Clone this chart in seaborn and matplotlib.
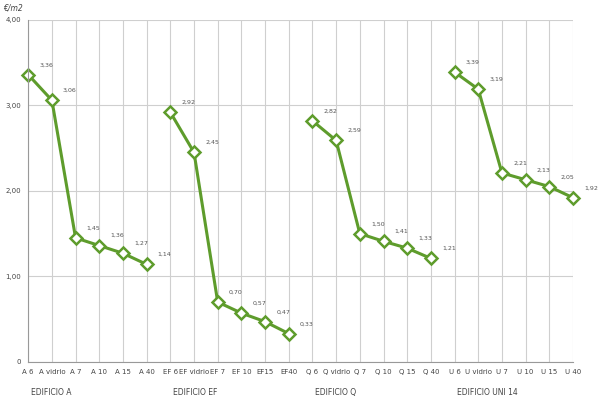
import matplotlib
matplotlib.use("Agg")
import matplotlib.pyplot as plt
import pandas as pd
import seaborn as sns

# valores (euro/m2)
edificios = ["EDIFICIO A", "EDIFICIO EF", "EDIFICIO Q", "EDIFICIO UNI 14"]
etiquetas = ["A 6", "A vidrio", "A 7", "A 10", "A 15", "A 40",
             "EF 6", "EF vidrio", "EF 7", "EF 10", "EF15", "EF40",
             "Q 6", "Q vidrio", "Q 7", "Q 10", "Q 15", "Q 40",
             "U 6", "U vidrio", "U 7", "U 10", "U 15", "U 40"]
valores_a = [3.36, 3.06, 1.45, 1.36, 1.27, 1.14]
valores_ef = [2.92, 2.45, 0.70, 0.57, 0.47, 0.33]
valores_q = [2.82, 2.59, 1.50, 1.41, 1.33, 1.21]
valores_u = [3.39, 3.19, 2.21, 2.13, 2.05, 1.92]
yticks = [0, 1, 2, 3, 4]
ytick_labels = ["0", "1,00", "2,00", "3,00", "4,00"]

todos = valores_a + valores_ef + valores_q + valores_u
df = pd.DataFrame({
    "pos": range(len(etiquetas)),
    "caso": etiquetas,
    "valor": todos,
    "edificio": [e for e in edificios for _ in range(6)],
})

verde = "#5e9c2c"
sns.set_style("white")
fig = plt.figure(figsize=(6, 4.07), dpi=100)
ax = fig.add_axes([0.047, 0.111, 0.908, 0.840])

sns.lineplot(data=df, x="pos", y="valor", hue="edificio",
             palette=[verde] * 4, legend=False, linewidth=2.2,
             marker="D", markersize=6.5, markerfacecolor="white",
             markeredgecolor=verde, markeredgewidth=1.8, ax=ax)
for ln in ax.lines:
    ln.set_clip_on(False)

for _, r in df.iterrows():
    ax.annotate(f"{r['valor']:.2f}".replace(".", ","), (r["pos"], r["valor"]),
                xytext=(8, 6), textcoords="offset points",
                fontsize=4.5, color="#555555")

ax.set_xlim(0, len(etiquetas) - 1)
ax.set_ylim(0, 4)
ax.set_xticks(range(len(etiquetas)))
ax.set_xticklabels(etiquetas, fontsize=5, color="#444444")
ax.set_yticks(yticks)
ax.set_yticklabels(ytick_labels, fontsize=5, color="#444444")
ax.tick_params(length=0, pad=5)
ax.grid(True, color="#cfcfcf", linewidth=0.8)
ax.set_axisbelow(True)
for s in ["top", "right"]:
    ax.spines[s].set_visible(False)
for s in ["left", "bottom"]:
    ax.spines[s].set_color("#999999")
    ax.spines[s].set_linewidth(0.8)
ax.set_xlabel("")
ax.set_ylabel("")

fig.text(0.005, 0.975, "€/m2", fontsize=5.5, style="italic", color="#444444")
for i, e in enumerate(edificios):
    x = ax.transData.transform((i * 6 + 0.1, 0))[0] / fig.bbox.width
    fig.text(x, 0.03, e, fontsize=5.5, color="#444444")

plt.savefig("out.png", dpi=100)
